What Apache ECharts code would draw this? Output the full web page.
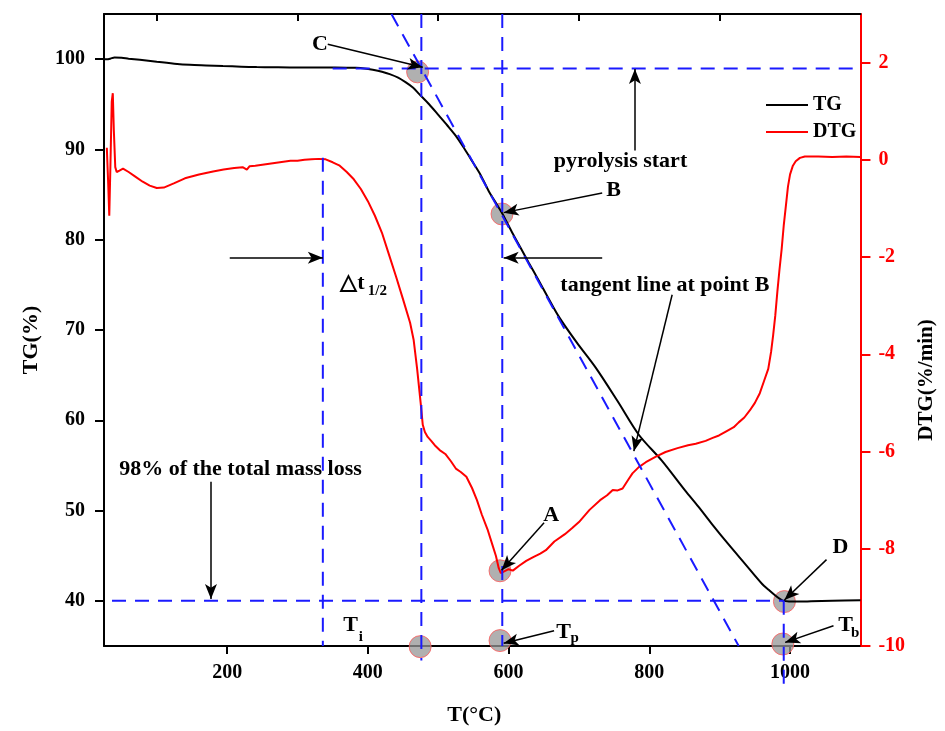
<!DOCTYPE html>
<html><head><meta charset="utf-8">
<script src="https://cdn.jsdelivr.net/npm/echarts@6/dist/echarts.min.js"></script>
<style>html,body{margin:0;padding:0;background:#fff}#c{width:945px;height:731px}</style>
</head><body><div id="c"></div>
<script>
const FONT = "'Liberation Serif','Times New Roman',serif";

// ---- TG curve (T in °C, TG in %) ----
const tgT = [25,29,34,40,50,60,76,100,125,147,170,194,220,242,265,289,336,370,383,395,407,420,431,443,454,464,473,487,501,513,525,537,549,560,572,581,591,605,617,629,642,656,672,697,724,755,785,818,851,870,889,912,936,960,970,979,986,991,1000,1007,1030,1060,1100];
const tgV = [100.0,99.98,100.05,100.19,100.15,100.05,99.92,99.7,99.5,99.37,99.3,99.23,99.17,99.12,99.1,99.08,99.08,99.06,99.04,98.97,98.82,98.6,98.34,97.95,97.42,96.85,96.13,95.0,93.74,92.65,91.5,90.1,88.6,87.2,85.35,84.2,82.9,80.8,79.1,77.4,75.6,73.6,71.4,68.6,65.8,62.1,58.4,55.5,52.2,50.4,48.5,46.3,44.1,41.9,41.2,40.6,40.2,40.0,39.93,39.92,39.95,40.0,40.07];

// ---- DTG curve (T in °C, DTG in %/min) ----
const dtgT = [29,31,32.5,34,36,37.5,39,41,43,47,52,60,70,80,90,100,110,125,140,160,180,195,210,222,228,232,240,250,260,270,280,290,300,310,320,330,340,350,360,370,380,390,400,410,420,430,440,450,460,465,470,475,478,481,485,490,495,502,510,518,525,532,540,548,555,562,570,577,582,586,589,593,600,606,615,625,635,645,653,665,680,690,700,715,730,740,748,755,762,770,776,785,795,810,823,840,855,866,880,890,899,910,920,927,935,943,950,957,963,969,973,976,979,982,985,988,991,994,997,1000,1004,1008,1014,1021,1040,1060,1080,1100];
const dtgV = [0.25,-0.5,-1.15,-0.2,1.2,1.37,0.6,-0.15,-0.25,-0.22,-0.18,-0.25,-0.35,-0.45,-0.53,-0.58,-0.57,-0.48,-0.38,-0.3,-0.24,-0.2,-0.17,-0.15,-0.2,-0.13,-0.12,-0.1,-0.08,-0.06,-0.04,-0.02,-0.02,0.0,0.01,0.02,0.01,-0.05,-0.12,-0.25,-0.4,-0.6,-0.85,-1.15,-1.5,-1.95,-2.4,-2.87,-3.35,-3.7,-4.3,-5.0,-5.45,-5.6,-5.7,-5.78,-5.87,-5.97,-6.05,-6.2,-6.35,-6.42,-6.52,-6.75,-7.0,-7.3,-7.6,-7.92,-8.15,-8.4,-8.5,-8.47,-8.42,-8.45,-8.35,-8.25,-8.17,-8.1,-8.03,-7.85,-7.7,-7.58,-7.45,-7.2,-7.0,-6.9,-6.79,-6.8,-6.76,-6.58,-6.45,-6.32,-6.22,-6.1,-6.01,-5.93,-5.87,-5.84,-5.78,-5.72,-5.67,-5.58,-5.5,-5.4,-5.3,-5.15,-5.0,-4.8,-4.55,-4.3,-3.95,-3.6,-3.2,-2.7,-2.25,-1.84,-1.35,-0.95,-0.55,-0.3,-0.12,-0.03,0.04,0.07,0.07,0.06,0.07,0.06];

// ---- tick values ----
const xTicks = [200,400,600,800,1000];
const xTopTicks = [100,300,500,700,900];
const tgTicks = [40,50,60,70,80,90,100];
const dtgTicks = [-10,-8,-6,-4,-2,0,2];

// ---- characteristic temperatures / levels ----
const Ti = 476, Tp = 591, Tb = 991, Thalf = 336;
const startLevel = 98.97, endLevel = 40.0;
// tangent line at B : two points (T, TG)
const tangentT = [433.5, 927];
const tangentV = [105, 35];

// ---- marked points (T, TG) ----
const circleNames = ['C','B','A','D','Ti','Tp','Tb'];
const circleT = [470.7, 590.6, 587.8, 992, 474.3, 587.8, 989.7];
const circleV = [98.59, 82.85, 43.33, 39.92, 34.93, 35.6, 35.22];

// ---- annotation arrows: [T1, TG1, T2, TG2] (tail -> head) ----
const arrows = [
  [343, 101.66, 478, 99.1],    // C
  [779.5, 89.88, 779.5, 98.9], // pyrolysis start
  [733, 85.17, 593, 83.0],     // B
  [203.7, 78.0, 336, 78.0],    // Δt left
  [733, 78.0, 593, 78.0],      // Δt right
  [832.4, 73.9, 778, 56.58],   // tangent line
  [177, 53.2, 177, 40.2],      // 98%
  [650.4, 48.66, 590, 43.4],   // A
  [1051.8, 44.57, 992, 40.1],  // D
  [388, 37.25, 474, 34.95],    // Ti
  [664.6, 36.7, 593, 35.3],    // Tp
  [1061.7, 37.25, 993, 35.4]   // Tb
];

// ---- annotation texts ----
const texts = [
  ['C', 332, 101.66, 22],
  ['B', 749.3, 85.46, 22],
  ['A', 660.4, 49.49, 22],
  ['D', 1071.7, 45.9, 22],
  ['pyrolysis start', 759, 88.63, 22],
  ['tangent line at point B', 822, 74.99, 22],
  ['98% of the total mass loss', 219, 54.53, 22],
  ['\u25B3t', 378, 75.16, 22],
  ['1/2', 413.6, 74.27, 15],
  ['T', 375.5, 37.3, 22],
  ['i', 390, 36.0, 15],
  ['T', 678, 36.5, 22],
  ['p', 694, 35.9, 15],
  ['T', 1079, 37.3, 22],
  ['b', 1092.5, 36.4, 15]
];

const pairs = (a, b) => a.map((v, i) => [v, b[i]]);
const blue = '#1a1aff';
const dash = [14, 9];
function refLine(pts, clip) {
  return {
    type: 'line', data: pts, symbol: 'none', silent: true, clip: clip,
    lineStyle: { color: blue, width: 2, type: dash }, z: 4, animation: false
  };
}

const chart = echarts.init(document.getElementById('c'));
const lab = { fontFamily: FONT, fontWeight: 'bold', fontSize: 20, color: '#000' };
chart.setOption({
  animation: false,
  backgroundColor: '#fff',
  grid: { left: 104, right: 83, top: 14, bottom: 82 },
  legend: {
    data: ['TG', 'DTG'], orient: 'vertical', left: 761, top: 90,
    icon: 'rect', itemWidth: 42, itemHeight: 2, itemGap: 7,
    textStyle: { fontFamily: FONT, fontWeight: 'bold', fontSize: 20, color: '#000', lineHeight: 20 }
  },
  xAxis: [{
    type: 'value', min: 25, max: 1100, position: 'bottom',
    name: 'T(\u00B0C)', nameLocation: 'middle', nameGap: 58,
    nameTextStyle: { fontFamily: FONT, fontWeight: 'bold', fontSize: 22, color: '#000', padding: [0, 16, 0, 0] },
    axisLine: { onZero: false, lineStyle: { color: '#000', width: 2 } },
    axisTick: { customValues: xTicks, length: 8, lineStyle: { width: 2, color: '#000' } },
    axisLabel: Object.assign({ customValues: xTicks, margin: 17, formatter: v => String(v) }, lab),
    splitLine: { show: false }
  }, {
    type: 'value', min: 25, max: 1100, position: 'top',
    axisLine: { onZero: false, lineStyle: { color: '#000', width: 2 } },
    axisTick: { customValues: xTopTicks, inside: true, length: 7, lineStyle: { width: 2, color: '#000' } },
    axisLabel: { show: false }, splitLine: { show: false }
  }],
  yAxis: [{
    type: 'value', min: 35, max: 105, position: 'left',
    name: 'TG(%)', nameLocation: 'middle', nameGap: 62, nameRotate: 90,
    nameTextStyle: { fontFamily: FONT, fontWeight: 'bold', fontSize: 22, color: '#000', padding: [0, 20, 0, 0] },
    axisLine: { show: true, onZero: false, lineStyle: { color: '#000', width: 2 } },
    axisTick: { show: true, customValues: tgTicks, length: 9, lineStyle: { width: 2, color: '#000' } },
    axisLabel: Object.assign({ customValues: tgTicks, margin: 19 }, lab),
    splitLine: { show: false }
  }, {
    type: 'value', min: -10, max: 3, position: 'right',
    name: 'DTG(%/min)', nameLocation: 'middle', nameGap: 52, nameRotate: 90,
    nameTextStyle: { fontFamily: FONT, fontWeight: 'bold', fontSize: 21, color: '#000', padding: [0, 100, 0, 0] },
    axisLine: { show: true, onZero: false, lineStyle: { color: '#ff0000', width: 2 } },
    axisTick: { show: true, customValues: dtgTicks, length: 10, lineStyle: { width: 2, color: '#ff0000' } },
    axisLabel: Object.assign({}, lab, { customValues: dtgTicks, margin: 18, color: '#ff0000' }),
    splitLine: { show: false }
  }],
  series: [
    {
      name: 'circles', type: 'scatter', data: pairs(circleT, circleV), symbolSize: 22, clip: false, z: 1,
      silent: true,
      itemStyle: { color: 'rgba(150,150,150,0.75)', borderColor: 'rgba(255,90,90,0.8)', borderWidth: 1, opacity: 1 }
    },
    {
      name: 'TG', type: 'line', data: pairs(tgT, tgV), symbol: 'none', smooth: 0.3, z: 3,
      lineStyle: { color: '#000', width: 2 }, itemStyle: { color: '#000' }
    },
    {
      name: 'DTG', type: 'line', yAxisIndex: 1, data: pairs(dtgT, dtgV), symbol: 'none', z: 3,
      lineStyle: { color: '#ff0000', width: 2 }, itemStyle: { color: '#ff0000' }
    },
    refLine([[Ti, 105], [Ti, 33.4]], false),
    refLine([[Tp, 105], [Tp, 35]], true),
    refLine([[Tb, endLevel], [Tb, 30]], false),
    refLine([[Thalf, 89.07], [Thalf, 35]], true),
    refLine([[350, startLevel], [1100, startLevel]], true),
    refLine([[3.7, endLevel], [Tb, endLevel]], false),
    refLine(pairs(tangentT, tangentV), true),
    {
      name: 'arrows', type: 'line', data: [], clip: false, z: 5, silent: true,
      markLine: {
        silent: true, symbol: ['none', 'arrow'], symbolSize: [9, 15], animation: false,
        label: { show: false },
        lineStyle: { color: '#000', width: 1.5, type: 'solid', opacity: 1 },
        emphasis: { disabled: true },
        data: arrows.map(a => [{ coord: [a[0], a[1]] }, { coord: [a[2], a[3]] }])
      }
    },
    {
      name: 'texts', type: 'scatter', clip: false, z: 6, silent: true, symbolSize: 1,
      itemStyle: { color: 'rgba(0,0,0,0)', opacity: 1 },
      data: texts.map(t => ({
        value: [t[1], t[2]],
        label: { show: true, position: 'inside', formatter: t[0], fontSize: t[3], opacity: 1,
                 textBorderWidth: 0, fontFamily: FONT, fontWeight: 'bold', color: '#000' }
      }))
    }
  ]
});
</script></body></html>
